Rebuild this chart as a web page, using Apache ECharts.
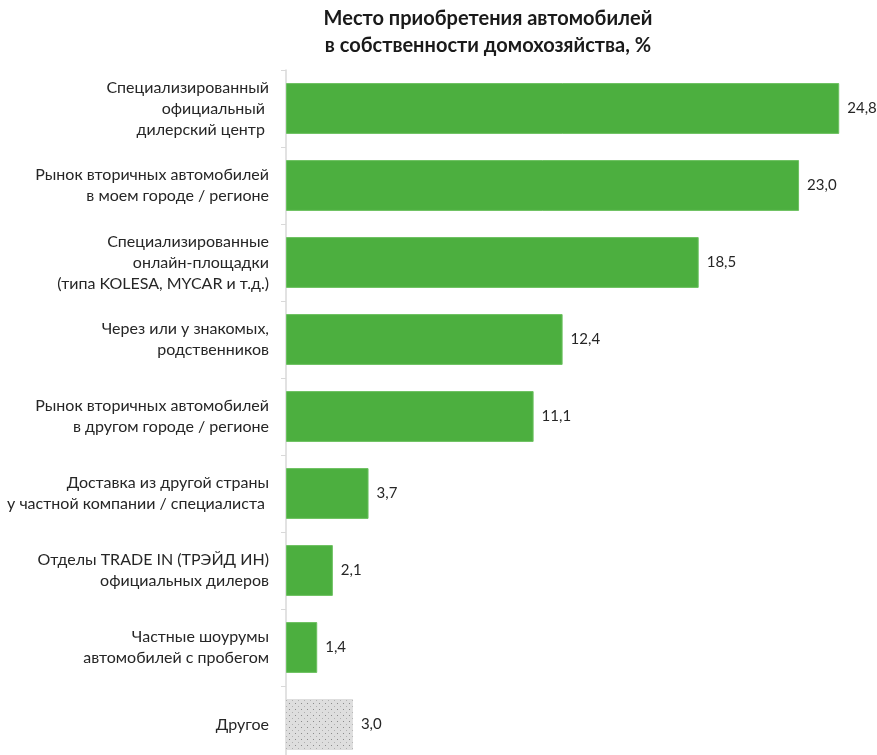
<!DOCTYPE html>
<html>
<head>
<meta charset="utf-8">
<script src="https://cdn.jsdelivr.net/npm/echarts@6/dist/echarts.min.js"></script>
<style>
  html, body { margin: 0; padding: 0; background: #ffffff; overflow: hidden; }
  /* plot runs slightly past the bottom edge of the view */
  #chart { width: 877px; height: 763px; }
</style>
</head>
<body>
<div id="chart"></div>
<script>
// Places where household cars were purchased, % of households
const categories = [
  'Специализированный\nофициальный \nдилерский центр ',
  'Рынок вторичных автомобилей\nв моем городе / регионе',
  'Специализированные\nонлайн-площадки\n(типа KOLESA, MYCAR и т.д.)',
  'Через или у знакомых,\nродственников',
  'Рынок вторичных автомобилей\nв другом городе / регионе',
  'Доставка из другой страны\nу частной компании / специалиста ',
  'Отделы TRADE IN (ТРЭЙД ИН)\nофициальных дилеров',
  'Частные шоурумы\nавтомобилей с пробегом',
  'Другое'
];
const values = [24.8, 23.0, 18.5, 12.4, 11.1, 3.7, 2.1, 1.4, 3.0];
const otherIndex = 8;

// Dotted grey fill for the "other" bar
function dotPattern() {
  const c = document.createElement('canvas');
  c.width = 6; c.height = 6;
  const g = c.getContext('2d');
  g.fillStyle = '#dedede';
  g.fillRect(0, 0, 6, 6);
  g.fillStyle = '#8a8a8a';
  g.fillRect(1, 1, 1, 1);
  g.fillStyle = '#b0b0b0';
  g.fillRect(4, 4, 1, 1);
  return c;
}

const green = '#4caf3f';
const font = 'Lato';
const chart = echarts.init(document.getElementById('chart'), null, { renderer: 'canvas' });

chart.setOption({
  animation: false,
  backgroundColor: '#ffffff',
  title: {
    text: 'Место приобретения автомобилей\nв собственности домохозяйства, %',
    left: 483,
    textAlign: 'center',
    top: 0,
    textStyle: {
      fontFamily: font,
      fontWeight: 'bold',
      fontSize: 20,
      lineHeight: 27,
      color: '#1a1a1a'
    }
  },
  grid: { left: 286, top: 70, right: 11, bottom: 0 },
  xAxis: {
    type: 'value',
    min: 0,
    max: 26,
    show: false
  },
  yAxis: {
    type: 'category',
    inverse: true,
    data: categories,
    axisLine: { show: true, lineStyle: { color: '#d9d9d9', width: 1.5 } },
    axisTick: { show: true, length: 5, lineStyle: { color: '#d9d9d9' } },
    axisLabel: {
      margin: 17,
      fontFamily: font,
      fontSize: 16,
      lineHeight: 21,
      color: '#262626',
      align: 'right'
    }
  },
  series: [{
    type: 'bar',
    barCategoryGap: '34%',
    data: values.map((v, i) => ({
      value: v,
      itemStyle: i === otherIndex
        ? { color: { image: dotPattern(), repeat: 'repeat' } }
        : { color: green, borderColor: '#6cc160', borderWidth: 1 }
    })),
    label: {
      show: true,
      position: 'right',
      distance: 8,
      fontFamily: font,
      fontSize: 15,
      color: '#262626',
      formatter: p => p.value.toFixed(1).replace('.', ',')
    }
  }]
});
</script>
</body>
</html>
